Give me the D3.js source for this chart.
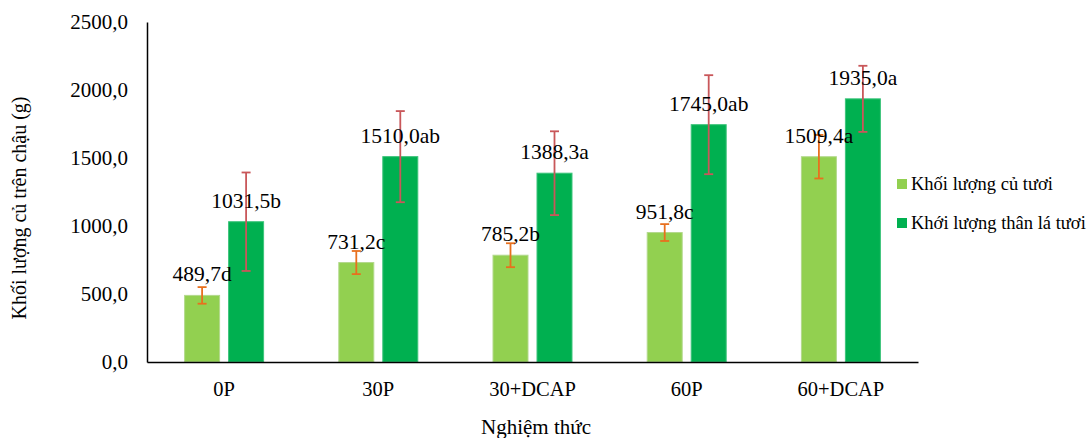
<!DOCTYPE html>
<html><head><meta charset="utf-8">
<script src="https://cdn.jsdelivr.net/npm/d3@7"></script>
<style>
body{margin:0;background:#fff;}
</style></head>
<body><svg id="chart" width="1091" height="438" style="font-family:'Liberation Serif','Times New Roman','DejaVu Serif',serif"></svg>
<script>
const categories = ["0P","30P","30+DCAP","60P","60+DCAP"];
const cuValues = [489.7, 731.2, 785.2, 951.8, 1509.4];
const cuErrors = [61, 85, 88, 62, 160];
const cuLetters = ["d","c","b","c","a"];
const thanValues = [1031.5, 1510.0, 1388.3, 1745.0, 1935.0];
const thanErrors = [362, 335, 308, 364, 243];
const thanLetters = ["b","ab","a","ab","a"];
const yTicks = [0, 500, 1000, 1500, 2000, 2500];
const seriesNames = ["Khối lượng củ tươi", "Khới lượng thân lá tươi"];

const FONT = "'Liberation Serif','Times New Roman','DejaVu Serif',serif";
const svg = d3.select("#chart");
const fmt = v => d3.format(".1f")(v).replace(".", ",");

const x0 = d3.scaleBand().domain(categories).range([147, 918]).padding(0);
const x1 = d3.scaleBand().domain(["cu","than"]).range([-40, 40]).paddingInner(8/44).paddingOuter(0);
const y = d3.scaleLinear().domain([0, 2500]).range([362, 22]);

const series = [
  {key:"cu", values:cuValues, errors:cuErrors, letters:cuLetters, fill:"#92D050", stroke:"#b3d98c", err:"#E8701E"},
  {key:"than", values:thanValues, errors:thanErrors, letters:thanLetters, fill:"#00B050", stroke:"#3cc47a", err:"#C9575A"}
];

// Y axis
const yAxis = svg.append("g").attr("transform","translate(147,0)")
  .call(d3.axisLeft(y).tickValues(yTicks).tickSize(0).tickSizeOuter(0).tickPadding(19).tickFormat(fmt));
yAxis.attr("font-family", FONT);
yAxis.select(".domain").attr("stroke","#000").attr("stroke-width",1.5);
yAxis.selectAll("text").style("font-size","21px").style("font-family",FONT).attr("fill","#000");

// bars
series.forEach(s => {
  const g = svg.append("g");
  categories.forEach((c, i) => {
    const cx = x0(c) + x0.bandwidth()/2 + x1(s.key);
    g.append("rect")
      .attr("x", cx + 0.5).attr("width", x1.bandwidth() - 1)
      .attr("y", y(s.values[i])).attr("height", y(0) - y(s.values[i]))
      .attr("fill", s.fill).attr("stroke", s.stroke).attr("stroke-width", 1);
  });
});

// X axis
const xAxis = svg.append("g").attr("transform","translate(0,362)")
  .call(d3.axisBottom(x0).tickSize(0).tickSizeOuter(0));
xAxis.attr("font-family", FONT);
xAxis.select(".domain").attr("stroke","#000").attr("stroke-width",1.5);
xAxis.selectAll("text").style("font-size","20.5px").style("font-family",FONT).attr("fill","#000").attr("dy",null).attr("y",34);

// error bars and labels
series.forEach(s => {
  const g = svg.append("g");
  categories.forEach((c, i) => {
    const cx = x0(c) + x0.bandwidth()/2 + x1(s.key) + x1.bandwidth()/2;
    const hi = y(s.values[i] + s.errors[i]), lo = y(s.values[i] - s.errors[i]);
    g.append("line").attr("x1",cx).attr("x2",cx).attr("y1",hi).attr("y2",lo).attr("stroke",s.err).attr("stroke-width",1.8);
    [hi, lo].forEach(yy => g.append("line").attr("x1",cx-4.5).attr("x2",cx+4.5).attr("y1",yy).attr("y2",yy).attr("stroke",s.err).attr("stroke-width",1.8));
  });
  categories.forEach((c, i) => {
    const cx = x0(c) + x0.bandwidth()/2 + x1(s.key) + x1.bandwidth()/2;
    g.append("text").attr("x",cx).attr("y",y(s.values[i]) - 14)
      .attr("text-anchor","middle").style("font-size","21.5px").style("font-family",FONT)
      .text(fmt(s.values[i]) + s.letters[i]);
  });
});

// axis titles
svg.append("text").attr("transform","translate(26,208) rotate(-90)")
  .attr("text-anchor","middle").style("font-size","20px").style("font-family",FONT).text("Khối lượng củ trên chậu (g)");
svg.append("text").attr("x",536).attr("y",434).attr("text-anchor","middle").style("font-size","21px").style("font-family",FONT).text("Nghiệm thức");

// legend
const leg = svg.append("g");
series.forEach((s, i) => {
  const yy = 184 + i*39;
  leg.append("rect").attr("x",897).attr("y",yy-5).attr("width",10).attr("height",10).attr("fill",s.fill);
  leg.append("text").attr("x",911).attr("y",yy+6).style("font-size","18.5px").style("font-family",FONT).text(seriesNames[i]);
});
</script></body></html>
